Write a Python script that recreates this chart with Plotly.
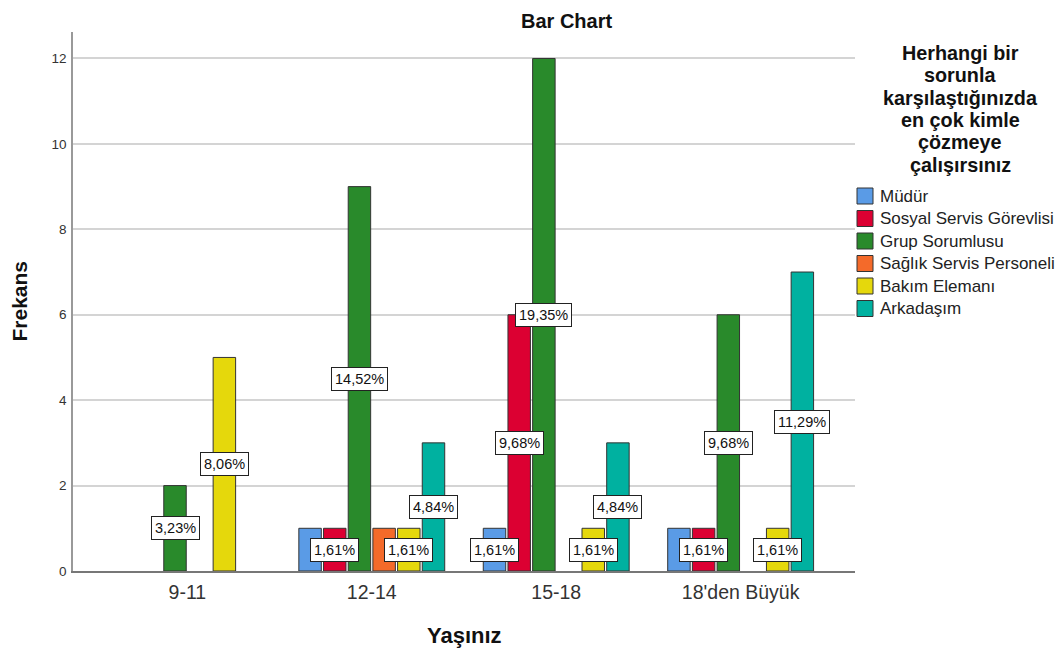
import plotly.graph_objects as go

categories = ["9-11", "12-14", "15-18", "18'den Büyük"]
series_names = ["Müdür", "Sosyal Servis Görevlisi", "Grup Sorumlusu",
                "Sağlık Servis Personeli", "Bakım Elemanı", "Arkadaşım"]
mudur = [0, 1, 1, 1]
sosyal = [0, 1, 6, 1]
grup = [2, 9, 12, 6]
saglik = [0, 1, 0, 0]
bakim = [5, 1, 1, 1]
arkadasim = [0, 3, 3, 7]
series_values = [mudur, sosyal, grup, saglik, bakim, arkadasim]
colors = ["#5a9be6", "#dc0032", "#298a2b", "#f46a2a", "#e5d80c", "#00b1a0"]
legend_title_lines = ["Herhangi bir", "sorunla", "karşılaştığınızda",
                      "en çok kimle", "çözmeye", "çalışırsınız"]
y_ticks = [0, 2, 4, 6, 8, 10, 12]

FONT = "Liberation Sans, Arial, sans-serif"
OFF = 8  # page body margin
W, H = 1063 - OFF, 655 - OFF
L, R, T, B = 73 - OFF, 208, 32 - OFF, 84
BARGAP = 0.197
XR = [-0.62, 3.62]
YR = [0, 12.62]
plot_w = W - L - R
plot_h = H - T - B
px_per_x = plot_w / (XR[1] - XR[0])
px_per_y = plot_h / (YR[1] - YR[0])


def pxx(px):  # page pixel -> paper x
    return (px - OFF - L) / plot_w


def pxy(py):  # page pixel -> paper y
    return (H - B - (py - OFF)) / plot_h


fig = go.Figure()
for name, vals, col in zip(series_names, series_values, colors):
    fig.add_trace(go.Bar(
        x=categories, y=[v if v else None for v in vals], name=name,
        marker=dict(color=col, line=dict(color="#333333", width=1)),
        showlegend=False, hoverinfo="x+y+name"))

total = sum(sum(v) for v in series_values)
n = len(series_names)
slot = (1 - BARGAP) / n

# percentage labels, placed in reverse order, hiding overlapping ones
shown = []
for ci in range(len(categories)):
    for si in reversed(range(n)):
        v = series_values[si][ci]
        if v == 0:
            continue
        xpos = ci + (si - (n - 1) / 2) * slot
        ypos = v / 2
        xp, yp = xpos * px_per_x, ypos * px_per_y
        if any(abs(xp - a) < 50 and abs(yp - b) < 23 for a, b in shown):
            continue
        shown.append((xp, yp))
        txt = f"{100 * v / total:.2f}%".replace(".", ",")
        fig.add_annotation(x=xpos, y=ypos, xref="x", yref="y", text=txt, showarrow=False,
                           font=dict(family=FONT, size=14.5, color="#111111"),
                           bgcolor="white", bordercolor="#222222", borderwidth=1, borderpad=3)

# titles
fig.add_annotation(x=pxx(566), y=pxy(21), xref="paper", yref="paper", xanchor="center", yanchor="middle",
                   text="<b>Bar Chart</b>", showarrow=False,
                   font=dict(family=FONT, size=20, color="#111111"))
fig.add_annotation(x=pxx(464), y=pxy(635), xref="paper", yref="paper", xanchor="center", yanchor="middle",
                   text="<b>Yaşınız</b>", showarrow=False,
                   font=dict(family=FONT, size=22, color="#111111"))
fig.add_annotation(x=pxx(19), y=0.5, xref="paper", yref="paper", xanchor="center", yanchor="middle",
                   text="<b>Frekans</b>", showarrow=False, textangle=-90,
                   font=dict(family=FONT, size=21, color="#111111"))

# legend (drawn manually to match spacing)
for k, line in enumerate(legend_title_lines):
    fig.add_annotation(x=pxx(960), y=pxy(53 + 22.3 * k), xref="paper", yref="paper",
                       xanchor="center", yanchor="middle",
                       text=f"<b>{line}</b>", showarrow=False,
                       font=dict(family=FONT, size=19.8, color="#111111"))
for k, (name, col) in enumerate(zip(series_names, colors)):
    yc = 196 + 22.5 * k
    fig.add_shape(type="rect", xref="paper", yref="paper",
                  x0=pxx(857), x1=pxx(873), y0=pxy(yc - 8), y1=pxy(yc + 8),
                  fillcolor=col, line=dict(color="#333333", width=1))
    fig.add_annotation(x=pxx(878), y=pxy(yc), xref="paper", yref="paper",
                       xanchor="left", yanchor="middle", text=name, showarrow=False,
                       font=dict(family=FONT, size=17, color="#222222"))

fig.update_layout(
    width=W, height=H,
    margin=dict(l=L, r=R, t=T, b=B),
    paper_bgcolor="white", plot_bgcolor="white",
    barmode="group", bargap=BARGAP, bargroupgap=0.09,
    font=dict(family=FONT, color="#333333"),
    showlegend=False,
    xaxis=dict(range=XR, showgrid=False, showline=True, linecolor="#777777", linewidth=1.5,
               ticks="", tickfont=dict(family=FONT, size=19.5, color="#333333"), zeroline=False,
               ticklabelstandoff=3),
    yaxis=dict(range=YR, tickvals=y_ticks, showgrid=True, gridcolor="#d4d4d4",
               gridwidth=1.5, showline=True, linecolor="#999999", linewidth=1.5, zeroline=False,
               ticks="", tickfont=dict(family=FONT, size=13.5, color="#333333"), ticklabelstandoff=2),
)

fig.write_html("out.html")
